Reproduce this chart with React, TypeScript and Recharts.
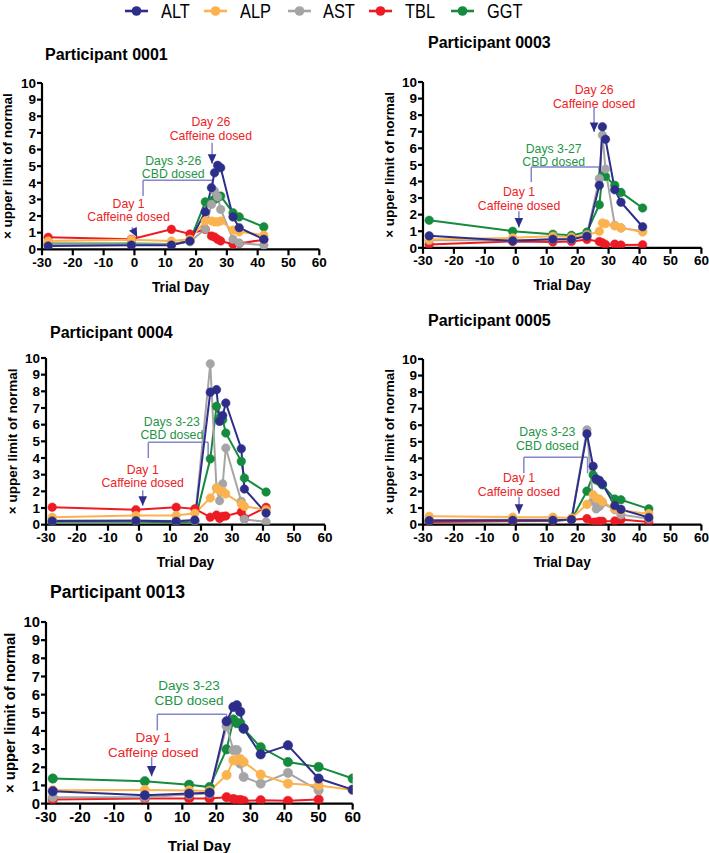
import React from 'react';
import { LineChart, Line, XAxis, YAxis, ReferenceLine, ReferenceDot } from 'recharts';

// ---------- data ----------
const SERIES_NAMES = ['ALT', 'ALP', 'AST', 'TBL', 'GGT'];
const SERIES_COLORS = ['#2d2e8a', '#fbb34f', '#a5a5a5', '#ed1c24', '#168a3d'];
const DRAW_ORDER = [4, 3, 2, 1, 0];
const X_TICKS = [-30, -20, -10, 0, 10, 20, 30, 40, 50, 60];
const Y_TICKS = [0, 1, 2, 3, 4, 5, 6, 7, 8, 9, 10];
const TITLES = ['Participant 0001', 'Participant 0003', 'Participant 0004', 'Participant 0005', 'Participant 0013'];

const DAYS_0001 = [-28, -1, 12, 18, 23, 25, 26, 27, 28, 32, 34, 42];
const ALT_0001 = [0.2, 0.25, 0.25, 0.5, 2.25, 3.7, 4.6, 5.05, 4.9, 1.95, 1.3, 0.6];
const ALP_0001 = [0.5, 0.58, 0.5, 0.6, 1.7, 1.7, 1.65, 1.65, 1.7, 1.15, 1.05, 0.85];
const AST_0001 = [0.3, 0.3, 0.3, 0.45, 1.22, 2.7, 3.5, 3.15, 2.4, 0.6, 0.38, 0.25];
const TBL_0001 = [0.72, 0.6, 1.2, 0.92, 1.2, 0.8, 0.74, 0.6, 0.5, 0.3, 0.35, 0.58];
const GGT_0001 = [0.35, 0.35, 0.32, 0.5, 2.85, 2.9, 3.0, 3.1, 3.2, 2.2, 1.95, 1.35];

const DAYS_0003 = [-28, -1, 12, 18, 23, 27, 28, 29, 32, 34, 41];
const ALT_0003 = [0.72, 0.42, 0.52, 0.52, 0.7, 3.77, 7.3, 6.55, 3.5, 2.75, 1.27];
const ALP_0003 = [0.5, 0.6, 0.7, 0.65, 0.75, 1.0, 1.5, 1.45, 1.32, 1.2, 0.95];
const AST_0003 = [0.45, 0.45, 0.5, 0.5, 0.8, 4.17, 6.8, 4.75, 1.35, 1.2, 1.0];
const TBL_0003 = [0.2, 0.38, 0.35, 0.38, 0.5, 0.38, 0.3, 0.2, 0.22, 0.17, 0.18];
const GGT_0003 = [1.66, 1.0, 0.82, 0.75, 0.95, 2.6, 4.37, 4.3, 3.77, 3.34, 2.4];

const DAYS_0004 = [-28, -1, 12, 18, 23, 25, 26, 27, 28, 33, 34, 41];
const ALT_0004 = [0.22, 0.24, 0.2, 0.28, 7.95, 8.1, 6.2, 6.55, 7.3, 4.56, 2.14, 0.7];
const ALP_0004 = [0.44, 0.55, 0.55, 0.68, 1.6, 2.2, 2.05, 2.0, 1.85, 1.25, 1.1, 0.9];
const AST_0004 = [0.25, 0.25, 0.22, 0.25, 9.65, 2.2, 1.44, 2.45, 4.6, 1.4, 0.32, 0.17];
const TBL_0004 = [1.05, 0.9, 1.05, 0.95, 0.45, 0.58, 0.38, 0.5, 0.52, 0.76, 0.4, 1.04];
const GGT_0004 = [0.18, 0.18, 0.15, 0.18, 3.95, 7.1, 6.4, 6.3, 5.5, 3.8, 2.8, 1.96];

const DAYS_0005 = [-28, -1, 12, 18, 23, 25, 26, 27, 28, 32, 34, 43];
const ALT_0005 = [0.24, 0.26, 0.26, 0.3, 5.48, 3.52, 2.76, 2.67, 2.45, 1.15, 0.92, 0.43];
const ALP_0005 = [0.5, 0.45, 0.45, 0.4, 1.22, 1.8, 1.6, 1.55, 1.38, 0.95, 0.85, 0.66];
const AST_0005 = [0.28, 0.3, 0.3, 0.3, 5.72, 1.4, 0.95, 1.1, 1.3, 0.9, 0.6, 0.35];
const TBL_0005 = [0.15, 0.22, 0.25, 0.3, 0.36, 0.14, 0.15, 0.2, 0.2, 0.22, 0.3, 0.15];
const GGT_0005 = [0.18, 0.2, 0.22, 0.3, 2.02, 3.0, 2.7, 2.6, 2.4, 1.55, 1.5, 0.95];

const DAYS_0013 = [-28, -1, 12, 18, 23, 25, 26, 27, 28, 33, 41, 50, 60];
const ALT_0013 = [0.68, 0.46, 0.55, 0.6, 4.53, 5.32, 5.41, 5.06, 4.13, 2.71, 3.21, 1.38, 0.77];
const ALP_0013 = [0.73, 0.75, 0.72, 0.7, 1.57, 2.38, 2.4, 2.45, 2.29, 1.6, 1.1, 1.0, 0.75];
const AST_0013 = [0.35, 0.35, 0.5, 0.55, 4.26, 2.94, 2.95, 2.2, 1.47, 1.1, 1.69, 0.73, null];
const TBL_0013 = [0.22, 0.28, 0.28, 0.28, 0.35, 0.25, 0.18, 0.2, 0.15, 0.18, 0.15, 0.22, null];
const GGT_0013 = [1.38, 1.23, 1.04, 0.91, 2.99, 4.63, 4.43, 4.43, 4.13, 3.1, 2.29, 2.02, 1.38];

const PANELS = [
  { days: DAYS_0001, values: [ALT_0001, ALP_0001, AST_0001, TBL_0001, GGT_0001] },
  { days: DAYS_0003, values: [ALT_0003, ALP_0003, AST_0003, TBL_0003, GGT_0003] },
  { days: DAYS_0004, values: [ALT_0004, ALP_0004, AST_0004, TBL_0004, GGT_0004] },
  { days: DAYS_0005, values: [ALT_0005, ALP_0005, AST_0005, TBL_0005, GGT_0005] },
  { days: DAYS_0013, values: [ALT_0013, ALP_0013, AST_0013, TBL_0013, GGT_0013] },
];

// ---------- annotations (text + anchor positions in data units) ----------
const CAFF_LABEL = 'Caffeine dosed';
const NOTES: any[] = [
  {
    day2: { text: ['Day 26', CAFF_LABEL], at: [24.8, 7.65], from: [25.2, 6.4], tip: [25.2, 5.15], angle: 0 },
    cbd: { text: ['Days 3-26', 'CBD dosed'], at: [12.6, 5.35], x1: 2.8, x2: 25.5, top: 4.15, botL: 3.2, botR: 3.6 },
    day1: { text: ['Day 1', CAFF_LABEL], at: [-1.9, 2.75], from: [-0.8, 1.32], tip: [0.9, 0.72], angle: -27 },
  },
  {
    day2: { text: ['Day 26', CAFF_LABEL], at: [25.35, 9.52], from: [25.3, 8.45], tip: [25.3, 6.98], angle: 0 },
    cbd: { text: ['Days 3-27', 'CBD dosed'], at: [12.25, 5.98], x1: 5.0, x2: 26.9, top: 4.87, botL: 3.97, botR: 3.97 },
    day1: { text: ['Day 1', CAFF_LABEL], at: [1.05, 3.37], from: [1.0, 2.2], tip: [1.0, 1.22], angle: 0 },
  },
  {
    cbd: { text: ['Days 3-23', 'CBD dosed'], at: [10.6, 6.2], x1: 3.0, x2: 22.3, top: 4.94, botL: 4.0, botR: 4.0 },
    day1: { text: ['Day 1', CAFF_LABEL], at: [1.19, 3.3], from: [1.2, 2.06], tip: [1.2, 1.14], angle: 0 },
  },
  {
    cbd: { text: ['Days 3-23', 'CBD dosed'], at: [10.2, 5.6], x1: 2.6, x2: 23.2, top: 4.06, botL: 3.1, botR: 3.1 },
    day1: { text: ['Day 1', CAFF_LABEL], at: [1.04, 2.82], from: [1.04, 1.68], tip: [1.04, 0.66], angle: 0 },
  },
  {
    cbd: { text: ['Days 3-23', 'CBD dosed'], at: [11.96, 6.51], x1: 2.66, x2: 23.0, top: 4.92, botL: 4.03, botR: 4.03 },
    day1: { text: ['Day 1', CAFF_LABEL], at: [1.48, 3.63], from: [1.0, 2.56], tip: [1.0, 1.5], angle: 0 },
  },
];

// ---------- layout (pixels) ----------
const LAYOUTS = [
  { L: 41.7, R: 319, T: 82.7, B: 249, titleX: 45, titleY: 55, xTitle: 38, yTitle: 34, scale: 1 },
  { L: 423.3, R: 701.7, T: 81.7, B: 247.5, titleX: 428, titleY: 43, xTitle: 37.5, yTitle: 33.3, scale: 1 },
  { L: 46, R: 325, T: 358.3, B: 525, titleX: 50, titleY: 333, xTitle: 37.7, yTitle: 33.3, scale: 1 },
  { L: 423.3, R: 701.7, T: 359.4, B: 525, titleX: 428, titleY: 321, xTitle: 37.7, yTitle: 33.3, scale: 1 },
  { L: 46, R: 352.7, T: 621.7, B: 803.3, titleX: 50, titleY: 592, xTitle: 41.7, yTitle: 36, scale: 1.1 },
];
const LEGEND_MARK_X = [125, 204, 288, 369, 451];
const LEGEND_TEXT_X = [161, 240, 323, 405, 487];

const FONT = "'Liberation Sans', Arial, Helvetica, sans-serif";
const RED_TXT = '#ee2326';
const GREEN_TXT = '#1f9546';
const BRACKET = '#8585cc';
const HEAD = '#2d2e8a';

const NoteText = (props: any) => {
  const { cx, cy, lines, color, fs, lh } = props;
  if (cx == null || cy == null) return null;
  return (
    <text x={cx} y={cy} textAnchor="middle" fill={color} fontSize={fs} fontFamily={FONT}>
      {lines.map((l: string, i: number) => (
        <tspan key={i} x={cx} dy={i === 0 ? fs * 0.35 : lh}>{l}</tspan>
      ))}
    </text>
  );
};

const Head = (props: any) => {
  const { cx, cy, angle, s } = props;
  if (cx == null || cy == null) return null;
  const w = 4.3 * s, h = 9.5 * s;
  return (
    <polygon
      points={`${cx},${cy} ${cx - w},${cy - h} ${cx + w},${cy - h}`}
      fill={HEAD}
      transform={`rotate(${angle} ${cx} ${cy})`}
    />
  );
};

const XTitle = (props: any) => {
  const { viewBox, dyc, fs } = props;
  if (!viewBox) return null;
  const x = viewBox.x + viewBox.width / 2;
  const y = viewBox.y + dyc;
  return (
    <text x={x} y={y} textAnchor="middle" dominantBaseline="central" fontSize={fs} fontWeight={700} fill="#000" fontFamily={FONT}>
      Trial Day
    </text>
  );
};

const YTitle = (props: any) => {
  const { viewBox, off, fs } = props;
  if (!viewBox) return null;
  const x = viewBox.x + viewBox.width - off;
  const y = viewBox.y + viewBox.height / 2;
  return (
    <text x={x} y={y} transform={`rotate(-90 ${x} ${y})`} textAnchor="middle" dominantBaseline="central" fontSize={fs} fontWeight={700} fill="#000" fontFamily={FONT}>
      × upper limit of normal
    </text>
  );
};

function Panel({ idx }: { idx: number }) {
  const lay = LAYOUTS[idx];
  const pd = PANELS[idx];
  const note = NOTES[idx];
  const s = lay.scale;
  const rows = pd.days.map((day, i) => {
    const r: any = { day };
    SERIES_NAMES.forEach((k, j) => {
      r[k] = pd.values[j][i];
    });
    return r;
  });
  const yw = 48, mt = 30, mr = 10, xh = 55, mb = 5;
  const width = yw + (lay.R - lay.L) + mr;
  const height = mt + (lay.B - lay.T) + xh + mb;
  const tickStyle = { fill: '#000', fontSize: 13.5 * s, fontWeight: 700, fontFamily: FONT };
  const axisLine = { stroke: '#000', strokeWidth: 2.2 };
  const lh = 13.5 * s;
  const fsNote = 12.3 * s;

  const segs: any[] = [];
  if (note.cbd) {
    const c = note.cbd;
    segs.push([[c.x1, c.botL], [c.x1, c.top]]);
    segs.push([[c.x1, c.top], [c.x2, c.top]]);
    segs.push([[c.x2, c.top], [c.x2, c.botR]]);
  }
  const arrows: any[] = [];
  if (note.day1) arrows.push(note.day1);
  if (note.day2) arrows.push(note.day2);

  return (
    <>
      <div
        style={{
          position: 'absolute',
          left: lay.titleX,
          top: lay.titleY - 10,
          fontFamily: FONT,
          fontSize: 16 * s,
          fontWeight: 700,
          lineHeight: '20px',
          whiteSpace: 'nowrap',
          color: '#000',
        }}
      >
        {TITLES[idx]}
      </div>
      <div style={{ position: 'absolute', left: lay.L - yw, top: lay.T - mt }}>
        <LineChart width={width} height={height} data={rows} margin={{ top: mt, right: mr, bottom: mb, left: 0 }}>
          <XAxis
            type="number"
            dataKey="day"
            domain={[-30, 60]}
            ticks={X_TICKS}
            interval={0}
            allowDataOverflow
            height={xh}
            tick={tickStyle}
            tickSize={6}
            tickMargin={2}
            axisLine={axisLine}
            tickLine={axisLine}
            label={<XTitle dyc={lay.xTitle} fs={13.8 * s} />}
          />
          <YAxis
            type="number"
            domain={[0, 10]}
            ticks={Y_TICKS}
            interval={0}
            allowDataOverflow
            width={yw}
            tick={tickStyle}
            tickSize={5}
            tickMargin={1}
            axisLine={axisLine}
            tickLine={axisLine}
            label={<YTitle off={lay.yTitle} fs={13.5 * s} />}
          />
          {segs.map((sg, i) => (
            <ReferenceLine
              key={'seg' + i}
              segment={[{ x: sg[0][0], y: sg[0][1] }, { x: sg[1][0], y: sg[1][1] }]}
              stroke={BRACKET}
              strokeWidth={1.5}
              ifOverflow="visible"
            />
          ))}
          {arrows.map((a, i) => (
            <ReferenceLine
              key={'sh' + i}
              segment={[{ x: a.from[0], y: a.from[1] }, { x: a.tip[0], y: a.tip[1] }]}
              stroke={BRACKET}
              strokeWidth={1.5}
              ifOverflow="visible"
            />
          ))}
          {DRAW_ORDER.map((j) => (
            <Line
              key={SERIES_NAMES[j]}
              type="linear"
              dataKey={SERIES_NAMES[j]}
              name={SERIES_NAMES[j]}
              stroke={SERIES_COLORS[j]}
              strokeWidth={2}
              dot={{ r: 4.3 * s, fill: SERIES_COLORS[j], stroke: SERIES_COLORS[j], strokeWidth: 0.5 }}
              activeDot={false}
              connectNulls
              isAnimationActive={false}
            />
          ))}
          {arrows.map((a, i) => (
            <ReferenceDot
              key={'hd' + i}
              x={a.tip[0]}
              y={a.tip[1]}
              r={0}
              ifOverflow="visible"
              shape={(p: any) => <Head cx={p.cx} cy={p.cy} angle={a.angle} s={s} />}
            />
          ))}
          {note.day1 && (
            <ReferenceDot
              x={note.day1.at[0]}
              y={note.day1.at[1]}
              r={0}
              ifOverflow="visible"
              shape={(p: any) => <NoteText cx={p.cx} cy={p.cy} lines={note.day1.text} color={RED_TXT} fs={fsNote} lh={lh} />}
            />
          )}
          {note.day2 && (
            <ReferenceDot
              x={note.day2.at[0]}
              y={note.day2.at[1]}
              r={0}
              ifOverflow="visible"
              shape={(p: any) => <NoteText cx={p.cx} cy={p.cy} lines={note.day2.text} color={RED_TXT} fs={fsNote} lh={lh} />}
            />
          )}
          {note.cbd && (
            <ReferenceDot
              x={note.cbd.at[0]}
              y={note.cbd.at[1]}
              r={0}
              ifOverflow="visible"
              shape={(p: any) => <NoteText cx={p.cx} cy={p.cy} lines={note.cbd.text} color={GREEN_TXT} fs={fsNote} lh={lh} />}
            />
          )}
        </LineChart>
      </div>
    </>
  );
}

function TopLegend() {
  return (
    <>
      {SERIES_NAMES.map((name, i) => (
        <React.Fragment key={name}>
          <svg width={23} height={12} style={{ position: 'absolute', left: LEGEND_MARK_X[i], top: 5 }}>
            <line x1={0} y1={6} x2={23} y2={6} stroke={SERIES_COLORS[i]} strokeWidth={2.6} />
            <circle cx={11.5} cy={6} r={4.8} fill={SERIES_COLORS[i]} />
          </svg>
          <span
            style={{
              position: 'absolute',
              left: LEGEND_TEXT_X[i],
              top: 0,
              fontSize: 21,
              lineHeight: '22px',
              fontFamily: FONT,
              color: '#000',
              whiteSpace: 'nowrap',
              transform: 'scaleX(0.78)',
              transformOrigin: '0 50%',
            }}
          >
            {name}
          </span>
        </React.Fragment>
      ))}
    </>
  );
}

export default function App() {
  return (
    <div style={{ position: 'absolute', left: 0, top: 0, width: 709, height: 853, overflow: 'hidden', background: '#fff' }}>
      <TopLegend />
      {[0, 1, 2, 3, 4].map((i) => (
        <Panel key={i} idx={i} />
      ))}
    </div>
  );
}
